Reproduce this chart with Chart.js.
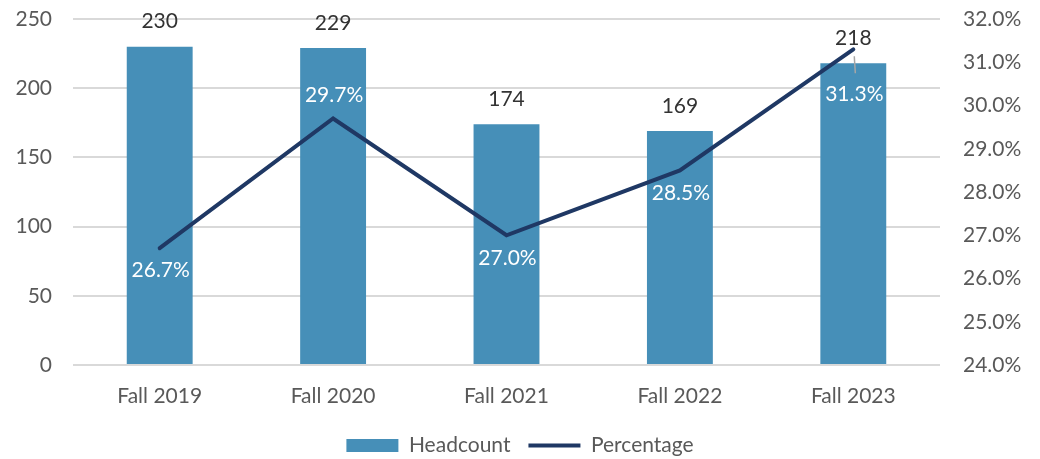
<!DOCTYPE html>
<html>
<head>
<meta charset="utf-8">
<script src="https://cdn.jsdelivr.net/npm/chart.js@4"></script>
<style>
  html, body { margin: 0; padding: 0; background: #fff; }
  #wrap { width: 1040px; height: 459px; }
</style>
</head>
<body>
<div id="wrap"><canvas id="chart"></canvas></div>
<script>
const terms = ['Fall 2019', 'Fall 2020', 'Fall 2021', 'Fall 2022', 'Fall 2023'];
const headcount = [230, 229, 174, 169, 218];
const percentage = [26.7, 29.7, 27.0, 28.5, 31.3];

const barColor = '#468FB8';
const lineColor = '#1F3864';
const textColor = '#595959';
const fontFamily = 'Lato, "Open Sans", sans-serif';
const fontSize = 21;

// where each percentage label sits relative to its point (px, + is down)
const pctOffsets = [22, -23, 23, 23, 45];

const labelPlugin = {
  id: 'labels',
  afterDatasetsDraw(chart) {
    const ctx = chart.ctx;
    ctx.save();
    ctx.font = fontSize + 'px ' + fontFamily;
    ctx.textAlign = 'center';
    ctx.textBaseline = 'middle';

    const bars = chart.getDatasetMeta(0).data;
    ctx.fillStyle = '#333333';
    bars.forEach(function(bar, i) {
      ctx.fillText(String(headcount[i]), bar.x, bar.y - 25);
    });

    const pts = chart.getDatasetMeta(1).data;
    pts.forEach(function(pt, i) {
      const off = pctOffsets[i];
      if (off > 30) {
        // leader line for the label pushed away from its point
        ctx.strokeStyle = '#A6A6A6';
        ctx.lineWidth = 1.5;
        ctx.beginPath();
        ctx.moveTo(pt.x + 1, pt.y + 7);
        ctx.lineTo(pt.x + 2, pt.y + 24);
        ctx.stroke();
      }
      ctx.fillStyle = '#ffffff';
      ctx.fillText(percentage[i].toFixed(1) + '%', pt.x + 1, pt.y + off);
    });
    ctx.restore();
  }
};

function noPad(scale) {
  scale.paddingTop = 0;
  scale.paddingBottom = 0;
}

new Chart(document.getElementById('chart'), {
  data: {
    labels: terms,
    datasets: [{
      type: 'bar',
      label: 'Headcount',
      data: headcount,
      yAxisID: 'y',
      backgroundColor: barColor,
      borderWidth: 0,
      pointStyle: 'rect',
      categoryPercentage: 0.76,
      barPercentage: 0.5,
      order: 1
    }, {
      type: 'line',
      label: 'Percentage',
      data: percentage,
      yAxisID: 'y1',
      borderColor: lineColor,
      backgroundColor: lineColor,
      borderWidth: 4,
      borderCapStyle: 'round',
      pointRadius: 0,
      pointStyle: 'line',
      tension: 0,
      order: 0
    }]
  },
  options: {
    responsive: true,
    maintainAspectRatio: false,
    animation: false,
    layout: { padding: { top: 19, bottom: -7 } },
    scales: {
      x: {
        grid: { display: false },
        border: { display: false },
        ticks: { color: textColor, font: { size: fontSize, family: fontFamily }, padding: 11 },
        afterFit: function(scale) { scale.height = 52; }
      },
      y: {
        position: 'left',
        min: 0,
        max: 250,
        ticks: { stepSize: 50, color: textColor, font: { size: fontSize, family: fontFamily }, padding: 21 },
        grid: { color: '#D9D9D9', lineWidth: 2, drawTicks: false },
        border: { display: false },
        afterFit: function(scale) { scale.width = 73; noPad(scale); }
      },
      y1: {
        position: 'right',
        min: 24,
        max: 32,
        ticks: {
          stepSize: 1,
          color: textColor,
          font: { size: fontSize, family: fontFamily },
          padding: 23,
          callback: function(v) { return v.toFixed(1) + '%'; }
        },
        grid: { display: false, drawTicks: false },
        border: { display: false },
        afterFit: function(scale) { scale.width = 100; noPad(scale); }
      }
    },
    plugins: {
      legend: {
        position: 'bottom',
        labels: {
          usePointStyle: true,
          pointStyleWidth: 52,
          boxHeight: 13,
          color: textColor,
          font: { size: fontSize, family: fontFamily },
          padding: 18,
          sort: function(a, b) { return a.datasetIndex - b.datasetIndex; }
        }
      },
      tooltip: { enabled: false }
    }
  },
  plugins: [labelPlugin]
});
</script>
</body>
</html>
